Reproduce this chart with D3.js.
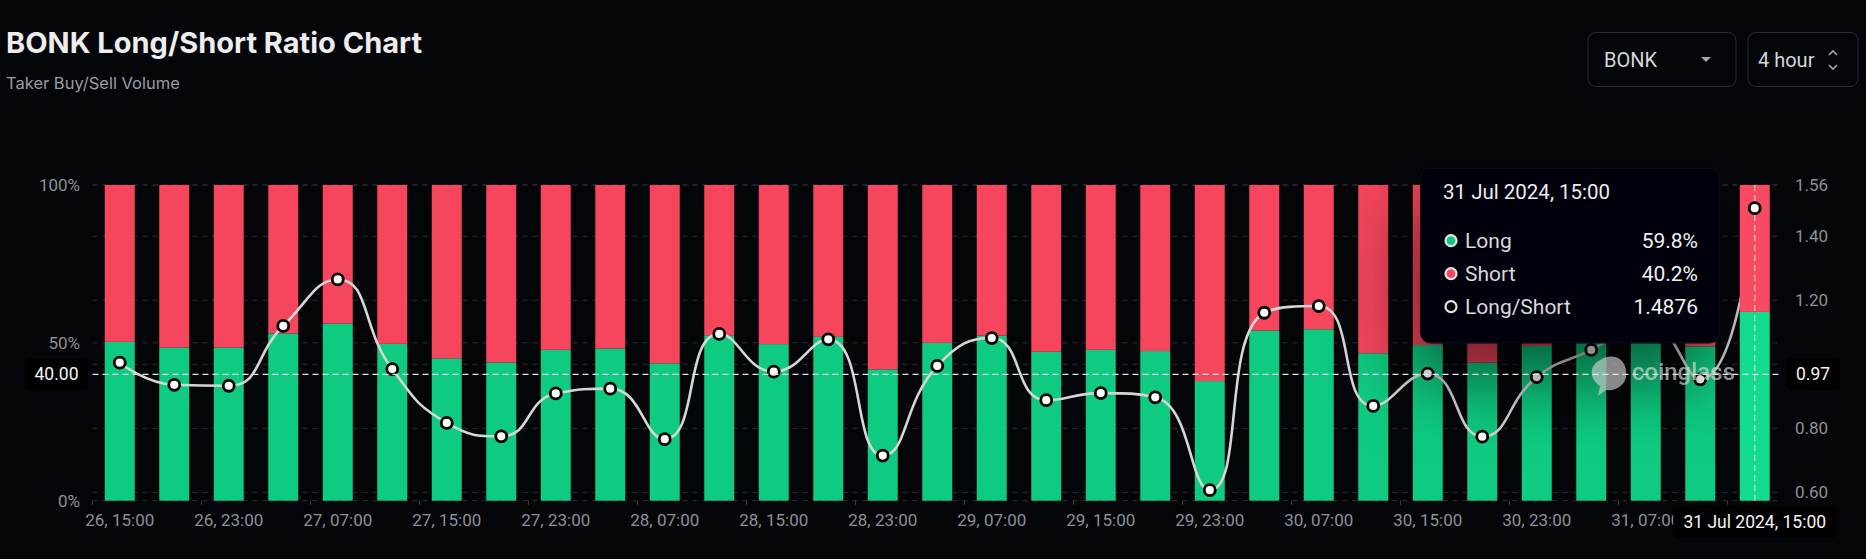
<!DOCTYPE html>
<html>
<head>
<meta charset="utf-8">
<script src="https://d3js.org/d3.v7.min.js"></script>
<style>
  body { margin: 0; background: #040509; overflow: hidden; }
  svg text { font-family: Roboto, "Noto Sans", sans-serif; }
</style>
</head>
<body>
<div id="chart"></div>
<script>

// 4-hour buckets, 26 Jul 15:00 -> 31 Jul 15:00
var times = ["26, 15:00","26, 19:00","26, 23:00","27, 03:00","27, 07:00","27, 11:00","27, 15:00","27, 19:00",
             "27, 23:00","28, 03:00","28, 07:00","28, 11:00","28, 15:00","28, 19:00","28, 23:00","29, 03:00",
             "29, 07:00","29, 11:00","29, 15:00","29, 19:00","29, 23:00","30, 03:00","30, 07:00","30, 11:00",
             "30, 15:00","30, 19:00","30, 23:00","31, 03:00","31, 07:00","31, 11:00","31, 15:00"];
var longPct  = [50.3, 48.5, 48.5, 53.0, 56.1, 49.7, 45.1, 43.8, 47.8, 48.2, 43.5, 52.4, 49.6, 51.9, 41.6, 50.0,
                52.3, 47.2, 47.8, 47.4, 37.9, 53.9, 54.3, 46.7, 49.3, 43.7, 49.0, 51.1, 53.1, 48.9, 59.8];
var shortPct = [49.7, 51.5, 51.5, 47.0, 43.9, 50.3, 54.9, 56.2, 52.2, 51.8, 56.5, 47.6, 50.4, 48.1, 58.4, 50.0,
                47.7, 52.8, 52.2, 52.6, 62.1, 46.1, 45.7, 53.3, 50.7, 56.3, 51.0, 48.9, 46.9, 51.1, 40.2];
var ratio    = [1.005, 0.936, 0.933, 1.120, 1.265, 0.985, 0.817, 0.775, 0.909, 0.924, 0.766, 1.095, 0.977, 1.078,
                0.715, 0.995, 1.082, 0.888, 0.910, 0.897, 0.607, 1.161, 1.182, 0.870, 0.971, 0.774, 0.960, 1.045,
                1.130, 0.953, 1.4876];
var pctTicks = [0, 50, 100];
var ratioTicks = [0.6, 0.8, 1.0, 1.2, 1.4, 1.56];
var hoverIndex = 30;
var crossPct = 40.00, crossRatio = 0.97;

var width = 1866, height = 559;
var plotL = 92.5, plotR = 1782, plotT = 185, plotB = 500.7;

var svg = d3.select("#chart").append("svg")
    .attr("width", width)
    .attr("height", height);

var defs = svg.append("defs");
var f = defs.append("filter").attr("id", "shadow")
    .attr("x", "-80%").attr("y", "-80%").attr("width", "260%").attr("height", "260%");
f.append("feDropShadow").attr("dx", -10).attr("dy", 35).attr("stdDeviation", 38)
    .attr("flood-color", "#000").attr("flood-opacity", 0.55);

// title
svg.append("text").attr("x", 6).attr("y", 53)
    .style("font-family", "Inter, sans-serif").style("font-weight", 700).style("font-size", "29px")
    .attr("fill", "#ededed")
    .text("BONK Long/Short Ratio Chart");
svg.append("text").attr("x", 6).attr("y", 89)
    .style("font-family", "Inter, sans-serif").style("font-size", "16.5px")
    .attr("fill", "#9a9ca3")
    .text("Taker Buy/Sell Volume");

// selectors
var ctl = svg.append("g");
ctl.append("rect").attr("x", 1588).attr("y", 32.5).attr("width", 148).attr("height", 54).attr("rx", 8)
    .attr("fill", "none").attr("stroke", "#2a2d34");
ctl.append("text").attr("x", 1604).attr("y", 67).style("font-size", "20px").attr("fill", "#d4d6da").text("BONK");
ctl.append("path").attr("d", "M1701,57 L1711,57 L1706,62 Z").attr("fill", "#a3a6ac");
ctl.append("rect").attr("x", 1748).attr("y", 32.5).attr("width", 110).attr("height", 54).attr("rx", 8)
    .attr("fill", "none").attr("stroke", "#2a2d34");
ctl.append("text").attr("x", 1758).attr("y", 67).style("font-size", "20px").attr("fill", "#d4d6da").text("4 hour");
ctl.append("path").attr("d", "M1829,55 L1833,51 L1837,55 M1829,65 L1833,69 L1837,65")
    .attr("fill", "none").attr("stroke", "#a3a6ac").attr("stroke-width", 1.6);

// scales
var x = d3.scaleBand().domain(times).range([plotL, plotR]).paddingInner(0.45).paddingOuter(0.225);
var yPct = d3.scaleLinear().domain([0, 100]).range([plotB, plotT]);
var yRatio = d3.scaleLinear().domain([0.574, 1.56]).range([plotB, plotT]);

// grid
var grid = svg.append("g").attr("stroke", "#2c2f35").attr("stroke-dasharray", "5,5");
grid.selectAll(".gr").data(ratioTicks).enter().append("line")
    .attr("x1", plotL).attr("x2", plotR)
    .attr("y1", function(d) { return yRatio(d); }).attr("y2", function(d) { return yRatio(d); });
grid.selectAll(".gp").data(pctTicks).enter().append("line")
    .attr("x1", plotL).attr("x2", plotR)
    .attr("y1", function(d) { return yPct(d); }).attr("y2", function(d) { return yPct(d); });

// bottom ticks at band boundaries every two bars
var half = (x.step() - x.bandwidth()) / 2;
var tickCats = times.filter(function(d, i) { return i % 2 === 0; });
svg.append("g").selectAll("line").data(tickCats).enter().append("line")
    .attr("x1", function(d) { return x(d) - half; }).attr("x2", function(d) { return x(d) - half; })
    .attr("y1", plotB).attr("y2", plotB + 4).attr("stroke", "#3a3d44");

var data = times.map(function(t, i) {
  return { t: t, long: longPct[i], short: shortPct[i], ratio: ratio[i], i: i };
});

function drawBars(g, rows, bright) {
  g.selectAll(".long").data(rows).enter().append("rect")
    .attr("x", function(d) { return x(d.t); }).attr("width", x.bandwidth())
    .attr("y", function(d) { return yPct(d.long); })
    .attr("height", function(d) { return yPct(0) - yPct(d.long); })
    .attr("fill", bright ? "#14dc8e" : "#0ecb81");
  g.selectAll(".short").data(rows).enter().append("rect")
    .attr("x", function(d) { return x(d.t); }).attr("width", x.bandwidth())
    .attr("y", function(d) { return yPct(d.long + d.short); })
    .attr("height", function(d) { return yPct(d.long) - yPct(d.long + d.short); })
    .attr("fill", bright ? "#f84a61" : "#f6465d");
}
drawBars(svg.append("g"), data.filter(function(d) { return d.i !== hoverIndex; }), false);

// echarts-like smooth line
function smoothLine(pts, smooth) {
  var p = d3.path();
  p.moveTo(pts[0][0], pts[0][1]);
  var c0x = pts[0][0], c0y = pts[0][1];
  for (var i = 1; i < pts.length; i++) {
    var X = pts[i][0], Y = pts[i][1], c1x = X, c1y = Y, nx = X, ny = Y;
    if (i < pts.length - 1) {
      var pr = pts[i - 1], ne = pts[i + 1];
      var vx = ne[0] - pr[0], vy = ne[1] - pr[1];
      var l0 = Math.hypot(X - pr[0], Y - pr[1]), l1 = Math.hypot(ne[0] - X, ne[1] - Y);
      var r = l1 / (l0 + l1);
      nx = X + vx * smooth * r; ny = Y + vy * smooth * r;
      nx = Math.max(Math.min(nx, Math.max(ne[0], X)), Math.min(ne[0], X));
      ny = Math.max(Math.min(ny, Math.max(ne[1], Y)), Math.min(ne[1], Y));
      c1x = X - (nx - X) * l0 / l1; c1y = Y - (ny - Y) * l0 / l1;
      c1x = Math.max(Math.min(c1x, Math.max(pr[0], X)), Math.min(pr[0], X));
      c1y = Math.max(Math.min(c1y, Math.max(pr[1], Y)), Math.min(pr[1], Y));
      nx = X + (X - c1x) * l1 / l0; ny = Y + (Y - c1y) * l1 / l0;
    }
    p.bezierCurveTo(c0x, c0y, c1x, c1y, X, Y);
    c0x = nx; c0y = ny;
  }
  return p.toString();
}
var pts = data.map(function(d) { return [x(d.t) + x.bandwidth() / 2, yRatio(d.ratio)]; });
svg.append("path").attr("d", smoothLine(pts, 0.5))
    .attr("fill", "none").attr("stroke", "#d6d6d6").attr("stroke-width", 2.6);

svg.append("g").selectAll("circle").data(data.filter(function(d) { return d.i !== hoverIndex; }))
  .enter().append("circle")
    .attr("cx", function(d) { return x(d.t) + x.bandwidth() / 2; })
    .attr("cy", function(d) { return yRatio(d.ratio); })
    .attr("r", 5.5).attr("fill", "#fff").attr("stroke", "#000").attr("stroke-width", 2.8);

// axes
var axL = svg.append("g").attr("transform", "translate(" + plotL + ",0)")
    .call(d3.axisLeft(yPct).tickValues(pctTicks).tickSize(0).tickPadding(12.5)
      .tickFormat(function(d) { return d + "%"; }));
var axR = svg.append("g").attr("transform", "translate(" + plotR + ",0)")
    .call(d3.axisRight(yRatio).tickValues(ratioTicks).tickSize(0).tickPadding(13)
      .tickFormat(d3.format(".2f")));
var axB = svg.append("g").attr("transform", "translate(0," + plotB + ")")
    .call(d3.axisBottom(x).tickValues(tickCats).tickSize(0).tickPadding(13));
[axL, axR, axB].forEach(function(a) {
  a.select(".domain").remove();
  a.selectAll("text").style("font-family", "Roboto, sans-serif").style("font-size", "17px").attr("fill", "#8d9097");
});

// tooltip
var h = data[hoverIndex];
var tip = svg.append("g");
tip.append("rect").attr("x", 1420.5).attr("y", 168).attr("width", 299).attr("height", 175).attr("rx", 10)
    .attr("fill", "#040509").attr("stroke", "#0c0d11").attr("filter", "url(#shadow)");
tip.append("text").attr("x", 1443).attr("y", 199).style("font-size", "20.5px")
    .attr("fill", "#ececec").text("31 Jul 2024, 15:00");
var rows = [
  { name: "Long", val: h.long.toFixed(1) + "%", fill: "#0ecb81" },
  { name: "Short", val: h.short.toFixed(1) + "%", fill: "#f6465d" },
  { name: "Long/Short", val: h.ratio.toFixed(4), fill: "#000" }
];
rows.forEach(function(r, k) {
  var cy = 240.7 + k * 33;
  tip.append("circle").attr("cx", 1451).attr("cy", cy).attr("r", 5.5)
      .attr("fill", r.fill).attr("stroke", "#e4e4e4").attr("stroke-width", 2.2);
  tip.append("text").attr("x", 1465).attr("y", cy + 7.5).style("font-size", "21px")
      .attr("fill", "#d9d9d9").text(r.name);
  tip.append("text").attr("x", 1698).attr("y", cy + 7.5).attr("text-anchor", "end")
      .style("font-size", "21px").attr("fill", "#f1f1f1").text(r.val);
});

// watermark
var wm = svg.append("g").attr("opacity", 0.65);
wm.append("path")
  .attr("d", "M1600,360 C1612,352 1626,358 1626,372 C1628,384 1616,392 1606,390 L1598,396 L1600,386 C1590,380 1588,366 1600,360 Z")
  .attr("fill", "#d0d0d0");
wm.append("text").attr("x", 1632).attr("y", 380).style("font-size", "24px").style("font-weight", 500)
    .attr("fill", "#dcdcdc").text("coinglass");

// hovered bar and point on top
drawBars(svg.append("g"), [h], true);

// crosshair
var cx = x(h.t) + x.bandwidth() / 2;
svg.append("line").attr("x1", plotL).attr("x2", plotR).attr("y1", yPct(crossPct)).attr("y2", yPct(crossPct))
    .attr("stroke", "#e8e8e8").attr("stroke-dasharray", "6,4").attr("stroke-width", 1.2);
svg.append("line").attr("x1", cx).attr("x2", cx).attr("y1", plotT).attr("y2", plotB)
    .attr("stroke", "#e8e8e8").attr("stroke-dasharray", "6,4").attr("stroke-width", 1.2).attr("opacity", 0.8);
svg.append("circle").attr("cx", cx).attr("cy", yRatio(h.ratio)).attr("r", 5.5)
    .attr("fill", "#fff").attr("stroke", "#000").attr("stroke-width", 2.8);

// crosshair labels
function boxLabel(xc, yc, w, txt) {
  svg.append("rect").attr("x", xc - w / 2).attr("y", yc - 16).attr("width", w).attr("height", 32).attr("rx", 5)
      .attr("fill", "#000");
  svg.append("text").attr("x", xc).attr("y", yc + 6).attr("text-anchor", "middle")
      .style("font-size", "17.5px").attr("fill", "#f5f5f5").text(txt);
}
boxLabel(56.5, yPct(crossPct), 63, crossPct.toFixed(2));
boxLabel(1813, yRatio(crossRatio), 54, crossRatio.toFixed(2));
boxLabel(cx, 522, 163, "31 Jul 2024, 15:00");

</script>
</body>
</html>
